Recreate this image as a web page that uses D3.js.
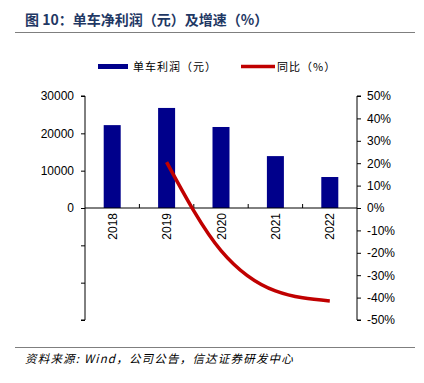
<!DOCTYPE html>
<html><head><meta charset="utf-8">
<script src="https://cdn.jsdelivr.net/npm/d3@7"></script>
<style>body{margin:0;background:#fff}svg{display:block;font-family:Arial,"Liberation Sans",sans-serif}</style>
</head><body>
<svg id="c" width="424" height="383"></svg>
<script>
const categories = ["2018","2019","2020","2021","2022"];
const profit = [22200, 26800, 21700, 13900, 8300];
const growth = [null, 20.5, -19, -37, -41.5];
const leftTicks = [0, 10000, 20000, 30000];
const leftMinorTicks = [-30000, -20000, -10000];
const rightTicks = [50,40,30,20,10,0,-10,-20,-30,-40,-50];

const svg = d3.select("#c");
const L = 85, R = 357, T = 96, B = 320;
const x = d3.scaleBand().domain(categories).range([L, R]);
const yL = d3.scaleLinear().domain([-30000, 30000]).range([B, T]);
const yR = d3.scaleLinear().domain([-50, 50]).range([B, T]);
const cjk = '"Noto Sans CJK SC", sans-serif';

// Title
svg.append("text").attr("x", 25).attr("y", 25).attr("font-family", cjk).attr("font-weight", "bold")
  .attr("font-size", 14).attr("fill", "#1F3864").text("图 10：单车净利润（元）及增速（%）");
svg.append("line").attr("x1", 15).attr("x2", 415).attr("y1", 32.5).attr("y2", 32.5).attr("stroke", "#7f7f7f").attr("stroke-width", 1);

// Legend
svg.append("rect").attr("x", 98).attr("y", 64).attr("width", 30).attr("height", 5).attr("fill", "#00008B");
svg.append("text").attr("x", 133).attr("y", 71).attr("font-family", cjk).attr("font-size", 11).attr("letter-spacing", 1)
  .attr("fill", "#000").text("单车利润（元）");
svg.append("line").attr("x1", 241).attr("x2", 275).attr("y1", 66.5).attr("y2", 66.5).attr("stroke", "#C00000").attr("stroke-width", 3.5);
svg.append("text").attr("x", 277).attr("y", 71).attr("font-family", cjk).attr("font-size", 11).attr("letter-spacing", 1)
  .attr("fill", "#000").text("同比（%）");

// Bars
svg.selectAll("rect.bar").data(profit).enter().append("rect").attr("class", "bar")
  .attr("x", (d, i) => x(categories[i]) + x.bandwidth() / 2 - 8.5)
  .attr("width", 17)
  .attr("y", d => yL(d)).attr("height", d => yL(0) - yL(d))
  .attr("fill", "#00008B");

// Left axis
const gL = svg.append("g").attr("transform", `translate(${L},0)`)
  .call(d3.axisLeft(yL).tickValues(leftTicks.concat(leftMinorTicks)).tickSize(4)
    .tickFormat(d => d >= 0 ? d : ""));
gL.select(".domain").attr("d", `M-4,${T}H0V${B}H-4`).attr("stroke", "#000");
gL.selectAll("text").attr("font-size", 12).attr("x", -11).attr("fill", "#000").attr("font-family", "Arial,'Liberation Sans',sans-serif");

// Right axis
const gR = svg.append("g").attr("transform", `translate(${R},0)`)
  .call(d3.axisRight(yR).tickValues(rightTicks).tickSize(4).tickFormat(d => d + "%"));
gR.select(".domain").attr("d", `M4,${T}H0V${B}H4`).attr("stroke", "#000");
gR.selectAll("text").attr("font-size", 12).attr("x", 10).attr("fill", "#000").attr("font-family", "Arial,'Liberation Sans',sans-serif");

// Category axis at zero
const gX = svg.append("g").attr("transform", `translate(0,${yL(0)})`);
gX.append("line").attr("x1", L).attr("x2", R).attr("stroke", "#000");
gX.selectAll("line.t").data(categories.slice(1)).enter().append("line").attr("class", "t")
  .attr("x1", d => x(d)).attr("x2", d => x(d)).attr("y1", 0).attr("y2", -4).attr("stroke", "#000");
gX.selectAll("text").data(categories).enter().append("text")
  .attr("transform", d => `translate(${x(d) + x.bandwidth() / 2 + 4.5},5) rotate(-90)`)
  .attr("text-anchor", "end").attr("font-size", 12).attr("fill", "#000").text(d => d);

// Line
const pts = growth.map((g, i) => [x(categories[i]) + x.bandwidth() / 2, g]).filter(p => p[1] !== null);
svg.append("path").datum(pts)
  .attr("d", d3.line().x(p => p[0]).y(p => yR(p[1])).curve(d3.curveMonotoneX))
  .attr("fill", "none").attr("stroke", "#C00000").attr("stroke-width", 3.5);

// Source
svg.append("line").attr("x1", 15).attr("x2", 415).attr("y1", 347.5).attr("y2", 347.5).attr("stroke", "#7f7f7f").attr("stroke-width", 1);
svg.append("text").attr("x", 25).attr("y", 363).attr("font-family", cjk).attr("font-style", "italic")
  .attr("font-size", 11.5).attr("letter-spacing", 1.2).attr("fill", "#000").text("资料来源: Wind，公司公告，信达证券研发中心");
</script>
</body></html>
